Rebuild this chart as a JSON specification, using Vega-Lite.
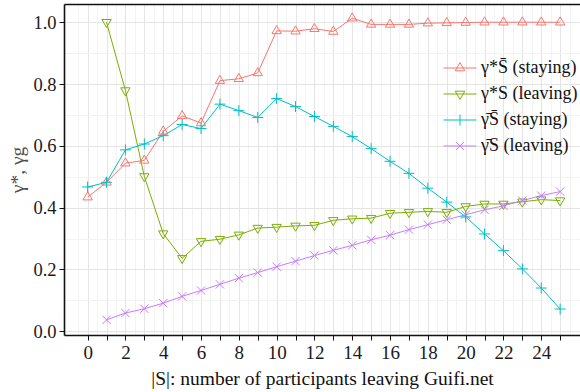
{
  "$schema": "https://vega.github.io/schema/vega-lite/v6.json",
  "width": 516,
  "height": 331,
  "autosize": {"type": "none"},
  "padding": {"left": 64, "top": 4, "right": 0, "bottom": 57},
  "background": "white",
  "config": {
    "view": {"stroke": null},
    "font": "Liberation Serif",
    "axis": {
      "domainColor": "#111111",
      "domainWidth": 1.6,
      "tickColor": "#111111",
      "tickWidth": 1,
      "tickSize": 5,
      "labelFont": "Liberation Serif",
      "labelFontSize": 19,
      "labelColor": "#1a1a1a",
      "titleFont": "Liberation Serif",
      "titleFontSize": 19.5,
      "titleFontWeight": "normal",
      "gridWidth": 1
    },
    "legend": {
      "labelFont": "Liberation Serif"
    }
  },
  "data": {
    "values": [
      {"curve": "opt_stay", "x": 0, "y": 0.434}, {"curve": "opt_stay", "x": 1, "y": 0.482}, {"curve": "opt_stay", "x": 2, "y": 0.544}, {"curve": "opt_stay", "x": 3, "y": 0.553}, {"curve": "opt_stay", "x": 4, "y": 0.647}, {"curve": "opt_stay", "x": 5, "y": 0.697}, {"curve": "opt_stay", "x": 6, "y": 0.674}, {"curve": "opt_stay", "x": 7, "y": 0.811}, {"curve": "opt_stay", "x": 8, "y": 0.817}, {"curve": "opt_stay", "x": 9, "y": 0.836}, {"curve": "opt_stay", "x": 10, "y": 0.972}, {"curve": "opt_stay", "x": 11, "y": 0.971}, {"curve": "opt_stay", "x": 12, "y": 0.979}, {"curve": "opt_stay", "x": 13, "y": 0.970}, {"curve": "opt_stay", "x": 14, "y": 1.013}, {"curve": "opt_stay", "x": 15, "y": 0.993}, {"curve": "opt_stay", "x": 16, "y": 0.993}, {"curve": "opt_stay", "x": 17, "y": 0.993}, {"curve": "opt_stay", "x": 18, "y": 0.997}, {"curve": "opt_stay", "x": 19, "y": 0.998}, {"curve": "opt_stay", "x": 20, "y": 0.999}, {"curve": "opt_stay", "x": 21, "y": 1.0}, {"curve": "opt_stay", "x": 22, "y": 1.0}, {"curve": "opt_stay", "x": 23, "y": 1.0}, {"curve": "opt_stay", "x": 24, "y": 1.0}, {"curve": "opt_stay", "x": 25, "y": 1.0},
      {"curve": "opt_leave", "x": 1, "y": 1.0}, {"curve": "opt_leave", "x": 2, "y": 0.779}, {"curve": "opt_leave", "x": 3, "y": 0.501}, {"curve": "opt_leave", "x": 4, "y": 0.316}, {"curve": "opt_leave", "x": 5, "y": 0.236}, {"curve": "opt_leave", "x": 6, "y": 0.291}, {"curve": "opt_leave", "x": 7, "y": 0.298}, {"curve": "opt_leave", "x": 8, "y": 0.312}, {"curve": "opt_leave", "x": 9, "y": 0.334}, {"curve": "opt_leave", "x": 10, "y": 0.337}, {"curve": "opt_leave", "x": 11, "y": 0.341}, {"curve": "opt_leave", "x": 12, "y": 0.343}, {"curve": "opt_leave", "x": 13, "y": 0.359}, {"curve": "opt_leave", "x": 14, "y": 0.364}, {"curve": "opt_leave", "x": 15, "y": 0.366}, {"curve": "opt_leave", "x": 16, "y": 0.382}, {"curve": "opt_leave", "x": 17, "y": 0.385}, {"curve": "opt_leave", "x": 18, "y": 0.388}, {"curve": "opt_leave", "x": 19, "y": 0.385}, {"curve": "opt_leave", "x": 20, "y": 0.404}, {"curve": "opt_leave", "x": 21, "y": 0.412}, {"curve": "opt_leave", "x": 22, "y": 0.412}, {"curve": "opt_leave", "x": 23, "y": 0.419}, {"curve": "opt_leave", "x": 24, "y": 0.426}, {"curve": "opt_leave", "x": 25, "y": 0.423},
      {"curve": "avg_stay", "x": 0, "y": 0.467}, {"curve": "avg_stay", "x": 1, "y": 0.482}, {"curve": "avg_stay", "x": 2, "y": 0.587}, {"curve": "avg_stay", "x": 3, "y": 0.606}, {"curve": "avg_stay", "x": 4, "y": 0.633}, {"curve": "avg_stay", "x": 5, "y": 0.669}, {"curve": "avg_stay", "x": 6, "y": 0.656}, {"curve": "avg_stay", "x": 7, "y": 0.735}, {"curve": "avg_stay", "x": 8, "y": 0.714}, {"curve": "avg_stay", "x": 9, "y": 0.692}, {"curve": "avg_stay", "x": 10, "y": 0.753}, {"curve": "avg_stay", "x": 11, "y": 0.727}, {"curve": "avg_stay", "x": 12, "y": 0.695}, {"curve": "avg_stay", "x": 13, "y": 0.663}, {"curve": "avg_stay", "x": 14, "y": 0.630}, {"curve": "avg_stay", "x": 15, "y": 0.591}, {"curve": "avg_stay", "x": 16, "y": 0.550}, {"curve": "avg_stay", "x": 17, "y": 0.511}, {"curve": "avg_stay", "x": 18, "y": 0.463}, {"curve": "avg_stay", "x": 19, "y": 0.418}, {"curve": "avg_stay", "x": 20, "y": 0.370}, {"curve": "avg_stay", "x": 21, "y": 0.315}, {"curve": "avg_stay", "x": 22, "y": 0.261}, {"curve": "avg_stay", "x": 23, "y": 0.202}, {"curve": "avg_stay", "x": 24, "y": 0.140}, {"curve": "avg_stay", "x": 25, "y": 0.072},
      {"curve": "avg_leave", "x": 1, "y": 0.037}, {"curve": "avg_leave", "x": 2, "y": 0.059}, {"curve": "avg_leave", "x": 3, "y": 0.073}, {"curve": "avg_leave", "x": 4, "y": 0.091}, {"curve": "avg_leave", "x": 5, "y": 0.113}, {"curve": "avg_leave", "x": 6, "y": 0.132}, {"curve": "avg_leave", "x": 7, "y": 0.152}, {"curve": "avg_leave", "x": 8, "y": 0.172}, {"curve": "avg_leave", "x": 9, "y": 0.190}, {"curve": "avg_leave", "x": 10, "y": 0.209}, {"curve": "avg_leave", "x": 11, "y": 0.227}, {"curve": "avg_leave", "x": 12, "y": 0.245}, {"curve": "avg_leave", "x": 13, "y": 0.262}, {"curve": "avg_leave", "x": 14, "y": 0.278}, {"curve": "avg_leave", "x": 15, "y": 0.296}, {"curve": "avg_leave", "x": 16, "y": 0.311}, {"curve": "avg_leave", "x": 17, "y": 0.329}, {"curve": "avg_leave", "x": 18, "y": 0.345}, {"curve": "avg_leave", "x": 19, "y": 0.361}, {"curve": "avg_leave", "x": 20, "y": 0.377}, {"curve": "avg_leave", "x": 21, "y": 0.393}, {"curve": "avg_leave", "x": 22, "y": 0.406}, {"curve": "avg_leave", "x": 23, "y": 0.423}, {"curve": "avg_leave", "x": 24, "y": 0.439}, {"curve": "avg_leave", "x": 25, "y": 0.452}
    ]
  },
  "encoding": {
    "y": {
      "field": "y",
      "type": "quantitative",
      "scale": {"domain": [-0.012, 1.059], "nice": false, "zero": false},
      "axis": {
        "title": "\u03b3*, \u03b3g",
        "titleColor": "#4d4d4d",
        "titlePadding": 5,
        "values": [0, 0.1, 0.2, 0.3, 0.4, 0.5, 0.6, 0.7, 0.8, 0.9, 1.0],
        "format": ".1f",
        "labelFontSize": 18.5,
        "labelExpr": "round(datum.value * 10) % 2 == 0 ? datum.label : ''",
        "labelPadding": 3,
        "tickOpacity": {"condition": {"test": "round(datum.value * 10) % 2 == 1", "value": 0}, "value": 1},
        "grid": true,
        "gridColor": {"condition": {"test": "round(datum.value * 10) % 2 == 1", "value": "#f3f3f3"}, "value": "#e4e4e4"}
      }
    },
    "color": {
      "field": "curve",
      "type": "nominal",
      "scale": {
        "domain": ["opt_stay", "opt_leave", "avg_stay", "avg_leave"],
        "range": ["#F8766D", "#7CAE00", "#00BFC4", "#C77CFF"]
      },
      "legend": {
        "orient": "none",
        "legendX": 379,
        "legendY": 47,
        "title": null,
        "labelFontSize": 18,
        "labelColor": "#111111",
        "labelOffset": 4,
        "rowPadding": -1,
        "symbolSize": 1089,
        "symbolStrokeWidth": 1,
        "labelExpr": "datum.value == 'opt_stay' ? '\u03b3*S\u0304 (staying)' : datum.value == 'opt_leave' ? '\u03b3*S (leaving)' : datum.value == 'avg_stay' ? '\u03b3\u0304S\u0304 (staying)' : '\u03b3\u0304S (leaving)'",
        "encode": {
          "symbols": {
            "update": {
              "shape": {"signal": "datum.value == 'opt_stay' ? 'M-1,0L1,0M-0.29,0.17L0.29,0.17L0,-0.33Z' : datum.value == 'opt_leave' ? 'M-1,0L1,0M-0.29,-0.17L0.29,-0.17L0,0.33Z' : datum.value == 'avg_stay' ? 'M-1,0L1,0M0,-0.33L0,0.33' : 'M-1,0L1,0M-0.24,-0.24L0.24,0.24M-0.24,0.24L0.24,-0.24'"},
              "fill": {"value": "transparent"},
              "strokeWidth": {"value": 1}
            }
          }
        }
      }
    }
  },
  "layer": [
    {
      "mark": {"type": "line", "strokeWidth": 1},
      "encoding": {
        "x": {
          "field": "x",
          "type": "quantitative",
          "scale": {"domain": [-1.25, 26.05], "nice": false, "zero": false},
          "axis": {
            "orient": "bottom",
            "title": "|S|: number of participants leaving Guifi.net",
            "titleColor": "#111111",
            "titlePadding": 7,
            "values": [-0.5, 0, 0.5, 1, 1.5, 2, 2.5, 3, 3.5, 4, 4.5, 5, 5.5, 6, 6.5, 7, 7.5, 8, 8.5, 9, 9.5, 10, 10.5, 11, 11.5, 12, 12.5, 13, 13.5, 14, 14.5, 15, 15.5, 16, 16.5, 17, 17.5, 18, 18.5, 19, 19.5, 20, 20.5, 21, 21.5, 22, 22.5, 23, 23.5, 24, 24.5, 25, 25.5],
            "labelExpr": "datum.value >= 0 && datum.value % 2 == 0 ? '' + datum.value : ''",
            "labelPadding": 3,
            "tickOpacity": {"condition": {"test": "datum.value % 1 != 0", "value": 0}, "value": 1},
            "grid": true,
            "gridColor": {"condition": {"test": "datum.value % 1 != 0", "value": "#f3f3f3"}, "value": "#e4e4e4"}
          }
        }
      }
    },
    {
      "encoding": {
        "x": {
          "field": "x",
          "type": "quantitative",
          "axis": {"orient": "top", "labels": false, "ticks": false, "grid": false, "title": null, "domain": true}
        }
      },
      "layer": [
        {
          "transform": [{"filter": "datum.curve == 'opt_stay'"}],
          "mark": {"type": "point", "shape": "M-0.85,0.5L0.85,0.5L0,-0.97Z", "filled": false, "strokeWidth": 1, "size": 121, "opacity": 1}
        },
        {
          "transform": [{"filter": "datum.curve == 'opt_leave'"}],
          "mark": {"type": "point", "shape": "M-0.85,-0.5L0.85,-0.5L0,0.97Z", "filled": false, "strokeWidth": 1, "size": 121, "opacity": 1}
        },
        {
          "transform": [{"filter": "datum.curve == 'avg_stay'"}],
          "mark": {"type": "point", "shape": "M-1,0L1,0M0,-1L0,1", "filled": false, "strokeWidth": 1, "size": 121, "opacity": 1}
        },
        {
          "transform": [{"filter": "datum.curve == 'avg_leave'"}],
          "mark": {"type": "point", "shape": "M-0.75,-0.75L0.75,0.75M-0.75,0.75L0.75,-0.75", "filled": false, "strokeWidth": 1, "size": 121, "opacity": 1}
        }
      ]
    }
  ],
  "resolve": {"axis": {"x": "independent"}}
}
